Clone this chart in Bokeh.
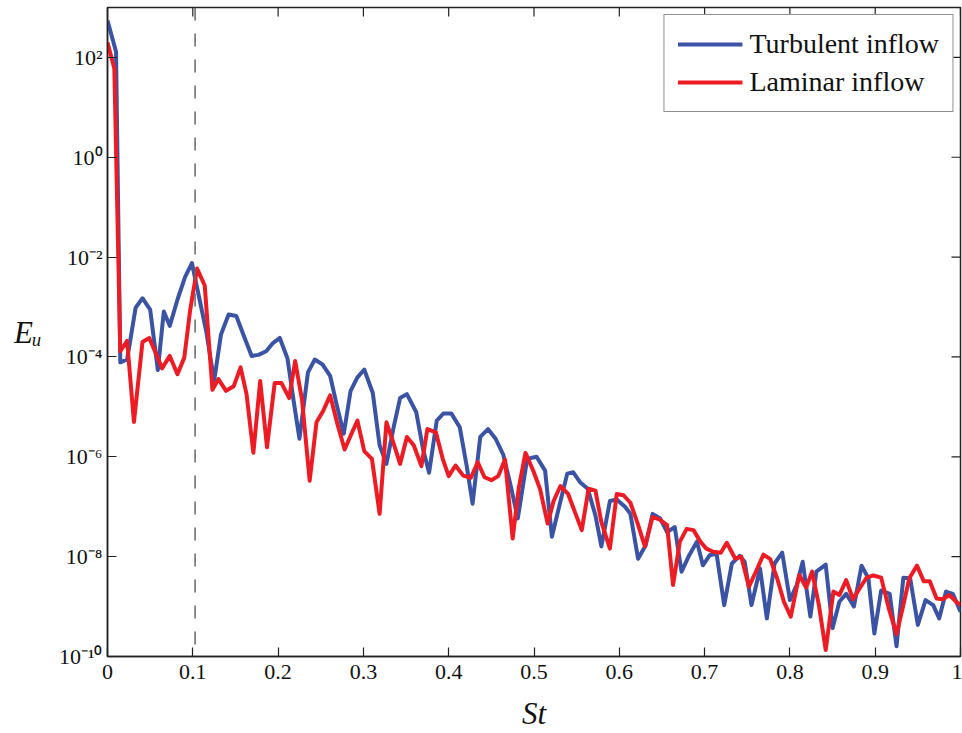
import math
from bokeh.plotting import figure
from bokeh.models import (ColumnDataSource, FixedTicker, CustomJSTickFormatter, Span,
                          Legend, LegendItem, Range1d)
from bokeh.embed import file_html
from bokeh.resources import INLINE

# ---------------- data ----------------
st_turb = [0.000, 0.010, 0.015, 0.023, 0.033, 0.041, 0.050, 0.059, 0.066, 0.073,
           0.082, 0.091, 0.099, 0.108, 0.116, 0.125, 0.133, 0.142, 0.151, 0.160,
           0.169, 0.177, 0.186, 0.194, 0.202, 0.211, 0.218, 0.225, 0.235, 0.243,
           0.252, 0.261, 0.269, 0.277, 0.285, 0.293, 0.301, 0.311, 0.319, 0.327,
           0.335, 0.343, 0.351, 0.362, 0.370, 0.377, 0.386, 0.394, 0.403, 0.413,
           0.421, 0.428, 0.437, 0.446, 0.455, 0.464, 0.473, 0.481, 0.492, 0.503,
           0.513, 0.521, 0.530, 0.539, 0.546, 0.554, 0.563, 0.572, 0.579, 0.589,
           0.597, 0.607, 0.613, 0.622, 0.631, 0.639, 0.648, 0.656, 0.665, 0.673,
           0.682, 0.691, 0.698, 0.706, 0.714, 0.723, 0.732, 0.741, 0.747, 0.755,
           0.765, 0.773, 0.782, 0.791, 0.800, 0.808, 0.815, 0.824, 0.831, 0.842,
           0.850, 0.858, 0.866, 0.875, 0.884, 0.892, 0.899, 0.907, 0.917, 0.925,
           0.933, 0.941, 0.950, 0.959, 0.968, 0.975, 0.983, 0.991, 1.000]
eu_turb = [5.5e2, 1.3e2, 7.8e-5, 8.9e-5, 9.7e-4, 1.5e-3, 8.9e-4, 5.5e-5, 8.1e-4, 4.2e-4,
           1.4e-3, 4.0e-3, 7.6e-3, 1.4e-3, 3.1e-4, 3.3e-5, 2.8e-4, 7.1e-4, 6.6e-4, 2.6e-4,
           1.05e-4, 1.1e-4, 1.3e-4, 1.9e-4, 2.4e-4, 9.3e-5, 1.4e-5, 2.3e-6, 4.9e-5, 8.9e-5,
           7.1e-5, 4.2e-5, 1.05e-5, 2.9e-6, 2.1e-5, 3.9e-5, 5.6e-5, 1.9e-5, 1.7e-6, 7.2e-7,
           3.6e-6, 1.5e-5, 1.8e-5, 7.8e-6, 1.4e-6, 4.8e-7, 5.3e-6, 7.4e-6, 7.4e-6, 3.9e-6,
           6.7e-7, 1.15e-7, 2.5e-6, 3.6e-6, 2.3e-6, 1.1e-6, 2.5e-7, 5.8e-8, 9.1e-7, 1.0e-6,
           5.3e-7, 2.5e-8, 1.1e-7, 4.6e-7, 4.9e-7, 3.1e-7, 2.3e-7, 6.7e-8, 1.6e-8, 1.3e-7,
           1.4e-7, 9.9e-8, 7.2e-8, 9.1e-9, 1.7e-8, 7.2e-8, 5.8e-8, 3.1e-8, 3.9e-8, 5.0e-9,
           1.07e-8, 2.0e-8, 6.7e-9, 1.07e-8, 1.15e-8, 1.07e-9, 7.3e-9, 1.04e-8, 7.9e-9, 1.07e-9,
           5.8e-9, 5.8e-10, 7.3e-9, 1.2e-8, 1.35e-9, 2.7e-9, 7.9e-9, 6.3e-10, 5.0e-9, 6.9e-9,
           3.7e-10, 1.25e-9, 1.8e-9, 1.0e-9, 6.6e-9, 3.7e-9, 2.9e-10, 2.1e-9, 1.8e-9, 1.6e-10,
           3.8e-9, 3.7e-9, 4.3e-10, 1.35e-9, 1.07e-9, 5.8e-10, 2.0e-9, 1.8e-9, 7.9e-10]

st_lam = [0.000, 0.008, 0.015, 0.023, 0.031, 0.041, 0.049, 0.058, 0.064, 0.073,
          0.082, 0.090, 0.097, 0.105, 0.114, 0.123, 0.130, 0.139, 0.148, 0.156,
          0.163, 0.171, 0.179, 0.187, 0.196, 0.204, 0.213, 0.220, 0.228, 0.237,
          0.245, 0.253, 0.261, 0.269, 0.278, 0.286, 0.293, 0.301, 0.310, 0.319,
          0.327, 0.335, 0.343, 0.351, 0.359, 0.368, 0.375, 0.385, 0.393, 0.400,
          0.408, 0.417, 0.426, 0.434, 0.442, 0.450, 0.458, 0.466, 0.475, 0.482,
          0.490, 0.499, 0.507, 0.516, 0.523, 0.531, 0.540, 0.548, 0.556, 0.564,
          0.572, 0.579, 0.589, 0.597, 0.605, 0.613, 0.621, 0.630, 0.639, 0.647,
          0.656, 0.663, 0.671, 0.679, 0.687, 0.695, 0.702, 0.710, 0.719, 0.726,
          0.736, 0.743, 0.752, 0.761, 0.769, 0.777, 0.785, 0.793, 0.801, 0.811,
          0.819, 0.826, 0.834, 0.842, 0.851, 0.858, 0.866, 0.874, 0.883, 0.890,
          0.898, 0.907, 0.916, 0.925, 0.933, 0.940, 0.949, 0.957, 0.964, 0.972,
          0.979, 0.987, 0.995, 1.000]
eu_lam = [2.0e2, 6.0e1, 1.3e-4, 2.1e-4, 5.0e-6, 2.0e-4, 2.4e-4, 1.05e-4, 5.9e-5, 1.05e-4,
          4.5e-5, 9.7e-5, 8.9e-4, 5.9e-3, 2.7e-3, 2.2e-5, 3.6e-5, 2.1e-5, 2.6e-5, 6.2e-5,
          1.8e-5, 1.2e-6, 3.3e-5, 1.55e-6, 3.0e-5, 3.0e-5, 1.5e-5, 8.3e-5, 1.4e-5, 3.3e-7,
          4.9e-6, 8.4e-6, 1.7e-5, 4.9e-6, 1.4e-6, 2.9e-6, 5.3e-6, 1.3e-6, 9.1e-7, 7.2e-8,
          4.9e-6, 1.95e-6, 7.2e-7, 2.5e-6, 1.7e-6, 6.5e-7, 3.6e-6, 3.1e-6, 9.1e-7, 4.1e-7,
          6.7e-7, 4.2e-7, 3.8e-7, 7.8e-7, 3.9e-7, 3.4e-7, 4.1e-7, 8.8e-7, 2.3e-8, 2.3e-7,
          1.2e-6, 5.3e-7, 2.3e-7, 4.6e-8, 1.3e-7, 2.6e-7, 1.8e-7, 7.8e-8, 3.4e-8, 2.3e-7,
          2.1e-7, 4.9e-8, 1.45e-8, 1.8e-7, 1.7e-7, 1.2e-7, 4.9e-8, 1.6e-8, 6.2e-8, 5.6e-8,
          4.3e-8, 2.7e-9, 2.0e-8, 3.6e-8, 3.4e-8, 2.0e-8, 1.45e-8, 1.25e-8, 1.2e-8, 1.9e-8,
          9.1e-9, 1.0e-8, 2.5e-9, 5.4e-9, 1.1e-8, 8.9e-9, 3.7e-9, 1.25e-9, 6.3e-10, 4.3e-9,
          2.4e-9, 5.0e-9, 1.07e-9, 1.35e-10, 2.0e-9, 1.7e-9, 3.4e-9, 1.4e-9, 2.5e-9, 3.8e-9,
          4.2e-9, 3.8e-9, 9.1e-10, 2.8e-10, 1.07e-9, 3.7e-9, 6.6e-9, 3.2e-9, 3.2e-9, 1.45e-9,
          1.4e-9, 1.7e-9, 1.25e-9, 1.07e-9]

x_ticks = [0, 0.1, 0.2, 0.3, 0.4, 0.5, 0.6, 0.7, 0.8, 0.9, 1.0]
y_ticks = [1e-10, 1e-8, 1e-6, 1e-4, 1e-2, 1e0, 1e2]
x_lim = (0, 1)
y_lim = (1e-10, 1e3)
st_marker = 0.1027
series_names = ["Turbulent inflow", "Laminar inflow"]

# ---------------- styling ----------------
BLUE = "#3a53a4"
RED = "#ed1c24"
SERIF = "Liberation Serif"
AX = "#222222"

p = figure(width=962, height=733, output_backend="svg", toolbar_location=None,
           y_axis_type="log", x_range=Range1d(*x_lim), y_range=Range1d(*y_lim),
           min_border_left=107, min_border_right=2, min_border_top=7, min_border_bottom=74)
p.background_fill_color = "white"
p.border_fill_color = "white"
p.outline_line_color = AX
p.outline_line_width = 1.5
p.xgrid.visible = False
p.ygrid.visible = False

sup_js = """
const sup = {'-':'\u207b','0':'\u2070','1':'\u00b9','2':'\u00b2','3':'\u00b3','4':'\u2074',
             '5':'\u2075','6':'\u2076','7':'\u2077','8':'\u2078','9':'\u2079'};
const e = Math.round(Math.log10(tick));
return '10' + String(e).split('').map(c => sup[c]).join('');
"""
xfmt_js = "return String(Math.round(tick * 10) / 10);"

def style_axis(ax):
    ax.axis_line_color = AX
    ax.axis_line_width = 1.5
    ax.major_tick_in = 9
    ax.major_tick_out = 0
    ax.major_tick_line_color = AX
    ax.major_tick_line_width = 1.2
    ax.minor_tick_line_color = None
    ax.major_label_text_font = SERIF
    ax.major_label_text_font_size = "22px"
    ax.major_label_text_color = "#111111"

xa = p.xaxis[0]
xa.ticker = FixedTicker(ticks=x_ticks, minor_ticks=[])
xa.formatter = CustomJSTickFormatter(code=xfmt_js)
style_axis(xa)
xa.major_label_standoff = 8
xa.axis_label = "St"
xa.axis_label_text_font = SERIF
xa.axis_label_text_font_style = "italic"
xa.axis_label_text_font_size = "31px"
xa.axis_label_text_color = "#111111"
xa.axis_label_standoff = 14

ya = p.yaxis[0]
ya.ticker = FixedTicker(ticks=y_ticks, minor_ticks=[])
ya.formatter = CustomJSTickFormatter(code=sup_js)
style_axis(ya)
ya.major_label_standoff = 5
ya.axis_label = "E\u1d64"
ya.axis_label_orientation = "horizontal"
ya.axis_label_text_font = SERIF
ya.axis_label_text_font_style = "italic"
ya.axis_label_text_font_size = "31px"
ya.axis_label_text_color = "#111111"
ya.axis_label_standoff = 14

# inward ticks on the top and right edges (dash markers centred on the frame edge, clipped by the frame)
top_src = ColumnDataSource(dict(x=x_ticks, y=[y_lim[1]] * len(x_ticks)))
p.scatter("x", "y", source=top_src, marker="dash", size=18, angle=math.pi / 2,
          line_color=AX, line_width=1.2)
right_src = ColumnDataSource(dict(x=[x_lim[1]] * len(y_ticks), y=y_ticks))
p.scatter("x", "y", source=right_src, marker="dash", size=18,
          line_color=AX, line_width=1.2)

p.add_layout(Span(location=st_marker, dimension="height", line_color="#666666",
                  line_width=1.5, line_dash="13 13"))

src_t = ColumnDataSource(dict(st=st_turb, eu=eu_turb))
src_l = ColumnDataSource(dict(st=st_lam, eu=eu_lam))
r_t = p.line("st", "eu", source=src_t, line_color=BLUE, line_width=4, line_join="round")
r_l = p.line("st", "eu", source=src_l, line_color=RED, line_width=4, line_join="round")

legend = Legend(items=[LegendItem(label=series_names[0], renderers=[r_t]),
                       LegendItem(label=series_names[1], renderers=[r_l])],
                location="top_right")
legend.label_text_font = SERIF
legend.label_text_font_size = "28px"
legend.label_text_color = "#111111"
legend.glyph_width = 65
legend.glyph_height = 30
legend.label_height = 30
legend.label_standoff = 7
legend.spacing = 6
legend.padding = 13
legend.margin = 7
legend.border_line_color = AX
legend.border_line_width = 1.2
legend.background_fill_color = "white"
legend.background_fill_alpha = 1.0
p.add_layout(legend)

open("out.html", "w").write(file_html(p, INLINE))
